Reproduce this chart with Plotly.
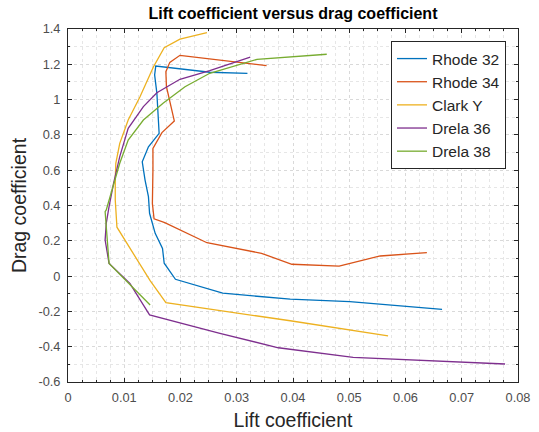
import plotly.graph_objects as go

names = ["Rhode 32", "Rhode 34", "Clark Y", "Drela 36", "Drela 38"]
colors = ["#0072BD", "#D95319", "#EDB120", "#7E2F8E", "#77AC30"]

rhode32_cd = [0.0319, 0.0252, 0.0156, 0.0154, 0.0158, 0.0162, 0.0143, 0.0132, 0.0137, 0.0143, 0.0145, 0.0155, 0.0168, 0.0171, 0.0191, 0.0275, 0.0395, 0.0501, 0.0665]
rhode32_cl = [1.149, 1.155, 1.190, 1.140, 1.036, 0.809, 0.733, 0.648, 0.544, 0.450, 0.356, 0.242, 0.157, 0.073, -0.018, -0.097, -0.131, -0.145, -0.188]

rhode34_cd = [0.0353, 0.0199, 0.0181, 0.0174, 0.0175, 0.0189, 0.0167, 0.0151, 0.0151, 0.0150, 0.0153, 0.0172, 0.0247, 0.0344, 0.0398, 0.0482, 0.0555, 0.0638]
rhode34_cl = [1.192, 1.251, 1.211, 1.158, 1.073, 0.879, 0.813, 0.724, 0.601, 0.412, 0.325, 0.303, 0.189, 0.129, 0.067, 0.057, 0.114, 0.133]

clarky_cd = [0.0247, 0.0199, 0.0171, 0.0152, 0.0128, 0.0107, 0.0092, 0.0085, 0.0084, 0.0084, 0.0087, 0.0146, 0.0174, 0.0395, 0.0569]
clarky_cl = [1.379, 1.343, 1.294, 1.186, 1.016, 0.884, 0.752, 0.639, 0.544, 0.431, 0.277, -0.026, -0.151, -0.253, -0.339]

drela36_cd = [0.0324, 0.0252, 0.0199, 0.0158, 0.0134, 0.0107, 0.0092, 0.0081, 0.0073, 0.0068, 0.0066, 0.0073, 0.0110, 0.0145, 0.0270, 0.0374, 0.0507, 0.0777]
drela36_cl = [1.240, 1.164, 1.115, 1.039, 0.960, 0.837, 0.677, 0.526, 0.393, 0.299, 0.204, 0.072, -0.041, -0.220, -0.324, -0.406, -0.460, -0.498]

drela38_cd = [0.0460, 0.0336, 0.0252, 0.0208, 0.0169, 0.0134, 0.0107, 0.0092, 0.0068, 0.0066, 0.0073, 0.0113, 0.0146]
drela38_cl = [1.257, 1.228, 1.149, 1.073, 0.979, 0.884, 0.771, 0.639, 0.375, 0.365, 0.072, -0.056, -0.164]

xs = [rhode32_cd, rhode34_cd, clarky_cd, drela36_cd, drela38_cd]
ys = [rhode32_cl, rhode34_cl, clarky_cl, drela36_cl, drela38_cl]

x_tickvals = [0, 0.01, 0.02, 0.03, 0.04, 0.05, 0.06, 0.07, 0.08]
x_ticktext = ["0", "0.01", "0.02", "0.03", "0.04", "0.05", "0.06", "0.07", "0.08"]
y_tickvals = [-0.6, -0.4, -0.2, 0, 0.2, 0.4, 0.6, 0.8, 1, 1.2, 1.4]
y_ticktext = ["-0.6", "-0.4", "-0.2", "0", "0.2", "0.4", "0.6", "0.8", "1", "1.2", "1.4"]

fig = go.Figure()
for n, c, x, y in zip(names, colors, xs, ys):
    fig.add_trace(go.Scatter(x=x, y=y, mode="lines", name=n,
                             line=dict(color=c, width=1.3)))

W, H = 539, 432
L, T, R, B = 68, 29, 21, 50

font = "Liberation Sans, Arial, sans-serif"
axis_common = dict(
    showline=True, linecolor="#262626", linewidth=1, mirror="ticks",
    ticks="inside", ticklen=4, tickcolor="#262626",
    showgrid=True, gridcolor="#d9d9d9", griddash="dot", gridwidth=1,
    zeroline=False, automargin=False,
    tickfont=dict(family=font, size=12.8, color="#4d4d4d"),
)

fig.update_layout(
    width=W, height=H,
    margin=dict(l=L, r=R, t=T, b=B),
    paper_bgcolor="white", plot_bgcolor="white",
    font=dict(family=font, color="#262626"),
    title=dict(text="<b>Lift coefficient versus drag coefficient</b>",
               x=(L + (W - R)) / 2 / W, xanchor="center",
               y=1 - 13 / H, yanchor="middle",
               font=dict(size=16, color="#000000")),
    legend=dict(x=(391 - L) / (W - L - R), y=(H - B - 41) / (H - T - B),
                xanchor="left", yanchor="top",
                bordercolor="#262626", borderwidth=1, bgcolor="white",
                font=dict(family=font, size=15.5, color="#262626"),
                tracegroupgap=0),
    showlegend=True,
)
fig.update_xaxes(range=[0, 0.08], tickvals=x_tickvals, ticktext=x_ticktext,
                 ticklabelstandoff=4,
                 minor=dict(dtick=0.0025, showgrid=True, gridcolor="#e6e6e6", griddash="dot",
                            ticks="inside", ticklen=2, tickcolor="#262626"),
                 title=dict(text="Lift coefficient", font=dict(family=font, size=19.5, color="#262626"), standoff=8),
                 **axis_common)
fig.update_yaxes(range=[-0.6, 1.4], tickvals=y_tickvals, ticktext=y_ticktext,
                 ticklabelstandoff=4,
                 minor=dict(dtick=0.1, showgrid=True, gridcolor="#e6e6e6", griddash="dot",
                            ticks="inside", ticklen=2, tickcolor="#262626"),
                 title=dict(text="Drag coefficient", font=dict(family=font, size=19.5, color="#262626"), standoff=6),
                 **axis_common)

fig.write_html("out.html", config={"displayModeBar": False},
               post_script="document.body.style.margin='0';")
